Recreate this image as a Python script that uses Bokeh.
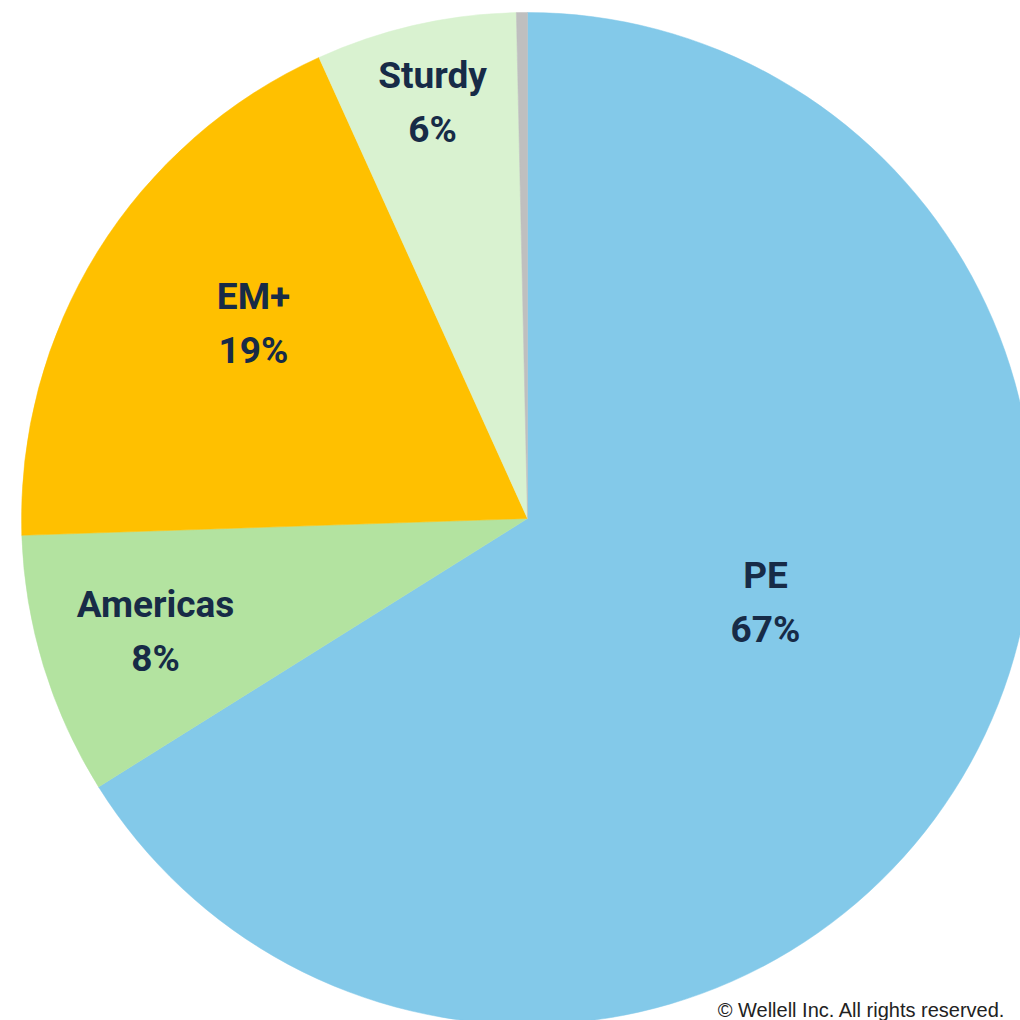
import math
from bokeh.plotting import figure
from bokeh.models import ColumnDataSource, Label
from bokeh.embed import file_html
from bokeh.resources import INLINE
from bokeh.core.properties import value

# ---- data ----
categories = ["PE", "Americas", "EM+", "Sturdy", "Other"]
shares = [66.1, 8.37, 18.77, 6.41, 0.35]
pct_labels = ["67%", "8%", "19%", "6%", ""]
colors = ["#83C9E9", "#B3E3A0", "#FFC000", "#D9F2D0", "#BFBFBF"]

# ---- layout (figure pixel units) ----
W, H = 1020, 1020
CX, CY, R = 527, 502, 506
label_xy = [(765, 418.5), (155, 389), (253, 697), (432, 918.5), None]

total = sum(shares)
starts, ends = [], []
cum = 0.0
for s in shares:
    starts.append(math.pi / 2 - 2 * math.pi * cum / total)
    cum += s
    ends.append(math.pi / 2 - 2 * math.pi * cum / total)

src = ColumnDataSource(dict(cat=categories, start=starts, end=ends, color=colors,
                            x=[CX] * len(shares), y=[CY] * len(shares)))

p = figure(width=W, height=H, x_range=(0, W), y_range=(0, H),
           output_backend="svg", toolbar_location=None, min_border=0)
p.axis.visible = False
p.grid.visible = False
p.outline_line_color = None
p.background_fill_color = "white"

p.wedge(x="x", y="y", radius=R, start_angle="start", end_angle="end",
        direction="clock", fill_color="color", line_color="color", line_width=0.5,
        source=src)

lx, ly, names, pcts = [], [], [], []
for c, pl, xy in zip(categories, pct_labels, label_xy):
    if xy is None:
        continue
    lx.append(xy[0]); ly.append(xy[1]); names.append(c); pcts.append(pl)
lsrc = ColumnDataSource(dict(x=lx, y=ly, name=names, pct=pcts))

common = dict(text_font=value("Roboto"), text_font_style="bold",
              text_font_size="37px", text_color="#172B47",
              text_align="center", text_baseline="middle", source=lsrc)
p.text(x="x", y="y", text="name", y_offset=-27, **common)
p.text(x="x", y="y", text="pct", y_offset=27, **common)

p.add_layout(Label(x=1005, y=11, x_units="data", y_units="data",
                   text="\u00a9 Wellell Inc. All rights reserved.",
                   text_font="Liberation Sans", text_font_size="20px",
                   text_color="#222222", text_align="right", text_baseline="middle"))

open("out.html", "w").write(file_html(p, INLINE))
